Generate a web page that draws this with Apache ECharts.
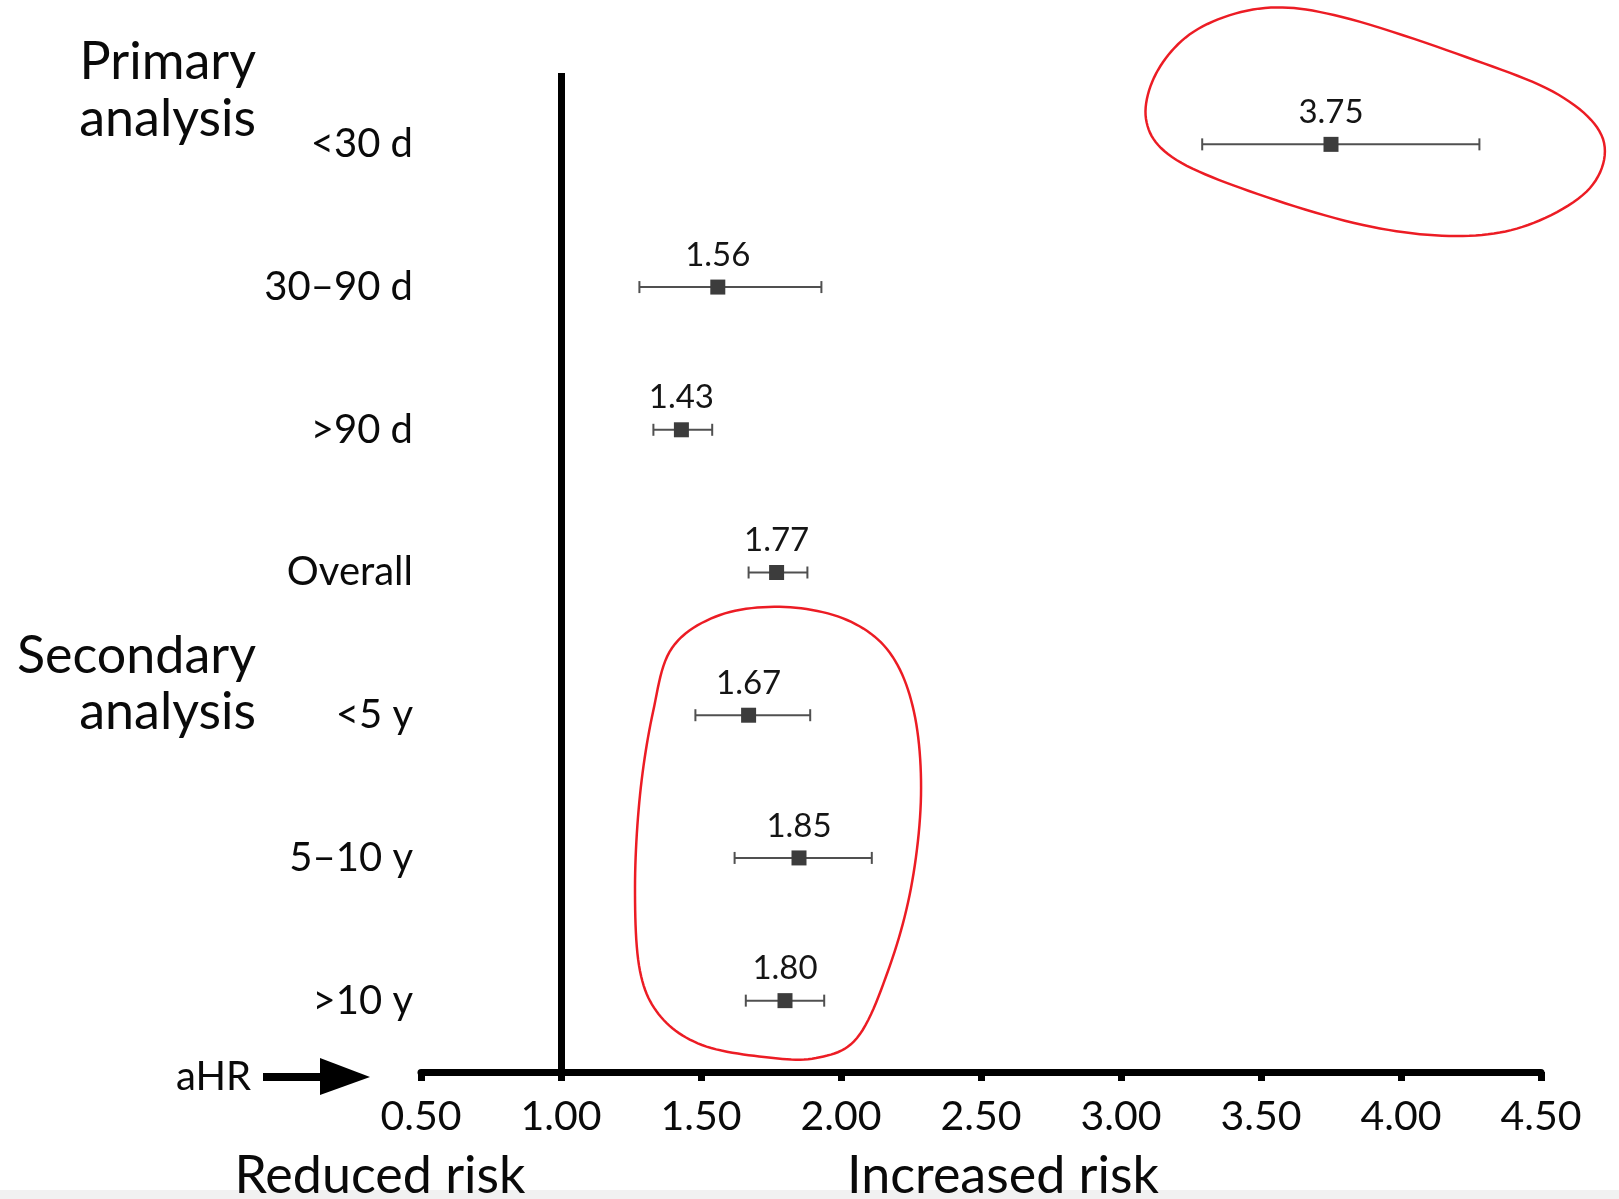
<!DOCTYPE html>
<html>
<head>
<meta charset="utf-8">
<style>
  html, body { margin: 0; padding: 0; background: #ffffff; }
  #chart { width: 1619px; height: 1199px; }
</style>
<script src="https://cdn.jsdelivr.net/npm/echarts@6/dist/echarts.min.js"></script>
</head>
<body>
<div id="chart"></div>
<script>
// Adjusted hazard ratios with 95% confidence intervals, one row per stratum
const categories = ['<30 d', '30–90 d', '>90 d', 'Overall', '<5 y', '5–10 y', '>10 y'];
const hazardRatio = [3.75, 1.56, 1.43, 1.77, 1.67, 1.85, 1.80];
const ciLower = [3.29, 1.28, 1.33, 1.67, 1.48, 1.62, 1.66];
const ciUpper = [4.28, 1.93, 1.54, 1.88, 1.89, 2.11, 1.94];
const axisTicks = [0.5, 4.5, 0.5]; // min, max, step of the aHR scale
const referenceHR = 1.0;

const FONT = 'Lato, "Open Sans", sans-serif';
const INK = '#0a0a0a';

const chart = echarts.init(document.getElementById('chart'), null, { renderer: 'canvas' });

// Row index is used on the category axis so every row maps to its band
const whiskerData = categories.map((c, i) => [ciLower[i], ciUpper[i], i]);
const pointData = categories.map((c, i) => [hazardRatio[i], i]);

// Closed Catmull-Rom curve through the given points, sampled into a point list
function closedCurve(pts, steps) {
  const n = pts.length;
  const out = [];
  for (let i = 0; i < n; i++) {
    const p0 = pts[(i - 1 + n) % n], p1 = pts[i], p2 = pts[(i + 1) % n], p3 = pts[(i + 2) % n];
    for (let s = 0; s < steps; s++) {
      const t = s / steps, t2 = t * t, t3 = t2 * t;
      const f = k => 0.5 * ((2 * p1[k]) + (-p0[k] + p2[k]) * t +
        (2 * p0[k] - 5 * p1[k] + 4 * p2[k] - p3[k]) * t2 +
        (-p0[k] + 3 * p1[k] - 3 * p2[k] + p3[k]) * t3);
      out.push([f(0), f(1)]);
    }
  }
  out.push(out[0]);
  return out;
}

// Hand-drawn style highlight loops
const loopShortTerm = [
  [1146,119],[1158,70],[1198,29],[1265,8],[1342,17],[1466,57],[1559,95],
  [1603,139],[1590,188],[1528,225],[1456,236],[1363,225],[1249,191],[1172,157]
];
const loopSecondary = [
  [785,607],[847,620],[890,653],[914,712],[921,795],[911,888],[888,971],
  [857,1038],[816,1058],[764,1057],[702,1045],[661,1017],[640,971],[635,888],
  [640,795],[653,712],[672,648],[720,615]
];

function sideText(text, x, y, size, align) {
  return {
    type: 'text', x: x, y: y, z: 10,
    style: { text: text, fill: INK, font: size + 'px ' + FONT, align: align || 'right', verticalAlign: 'middle' }
  };
}

const option = {
  backgroundColor: '#ffffff',
  animation: false,
  grid: { left: 421, right: 78, top: 73, bottom: 127 },
  xAxis: {
    type: 'value',
    min: axisTicks[0], max: axisTicks[1], interval: axisTicks[2],
    splitLine: { show: false },
    axisLine: { show: true, lineStyle: { color: '#000', width: 7 } },
    axisTick: { show: true, length: 9, lineStyle: { color: '#000', width: 7 } },
    axisLabel: {
      color: INK, fontFamily: FONT, fontSize: 41, margin: 24,
      formatter: v => v.toFixed(2)
    }
  },
  yAxis: {
    type: 'category',
    data: categories,
    inverse: true,
    axisLine: { show: false },
    axisTick: { show: false },
    splitLine: { show: false },
    axisLabel: { color: INK, fontFamily: FONT, fontSize: 40, margin: 8 }
  },
  series: [
    {
      type: 'custom',
      name: '95% CI',
      data: whiskerData,
      dimensions: ['lo', 'hi', 'row'],
      z: 2,
      encode: { x: ['lo', 'hi'], y: 'row' },
      renderItem: function (params, api) {
        const row = api.value(2);
        const p0 = api.coord([api.value(0), row]);
        const p1 = api.coord([api.value(1), row]);
        const y = p0[1];
        const st = { stroke: '#505050', lineWidth: 2 };
        const cap = 6;
        return {
          type: 'group',
          children: [
            { type: 'line', shape: { x1: p0[0], y1: y, x2: p1[0], y2: y }, style: st },
            { type: 'line', shape: { x1: p0[0], y1: y - cap, x2: p0[0], y2: y + cap }, style: st },
            { type: 'line', shape: { x1: p1[0], y1: y - cap, x2: p1[0], y2: y + cap }, style: st }
          ]
        };
      }
    },
    {
      type: 'scatter',
      name: 'aHR',
      data: pointData,
      z: 3,
      symbol: 'rect',
      symbolSize: 15,
      itemStyle: { color: '#3c3c3c', opacity: 1 },
      label: {
        show: true,
        position: 'top',
        distance: 8,
        color: '#151515',
        fontFamily: FONT,
        fontSize: 33,
        formatter: p => p.value[0].toFixed(2)
      },
      markLine: {
        silent: true,
        symbol: ['none', 'none'],
        label: { show: false },
        lineStyle: { color: '#000', width: 7, type: 'solid', opacity: 1 },
        data: [{ xAxis: referenceHR }]
      }
    }
  ],
  graphic: [
    { type: 'rect', z: 0, shape: { x: 0, y: 1190, width: 1619, height: 9 }, style: { fill: '#f1f1f1' } },
    sideText('Primary', 256, 62, 52),
    sideText('analysis', 256, 119, 52),
    sideText('Secondary', 256, 656, 52),
    sideText('analysis', 256, 712, 52),
    sideText('aHR', 251, 1077, 40),
    { type: 'rect', z: 10, shape: { x: 263, y: 1073, width: 60, height: 8 }, style: { fill: '#000' } },
    { type: 'polygon', z: 10, shape: { points: [[320, 1058], [370, 1077], [320, 1095]] }, style: { fill: '#000' } },
    sideText('Reduced risk', 380, 1176, 52, 'center'),
    sideText('Increased risk', 1003, 1176, 52, 'center'),
    { type: 'polyline', z: 20, shape: { points: closedCurve(loopShortTerm, 12) }, style: { fill: null, stroke: '#ec1c24', lineWidth: 2.5 } },
    { type: 'polyline', z: 20, shape: { points: closedCurve(loopSecondary, 12) }, style: { fill: null, stroke: '#ec1c24', lineWidth: 2.5 } }
  ]
};

chart.setOption(option);
</script>
</body>
</html>
